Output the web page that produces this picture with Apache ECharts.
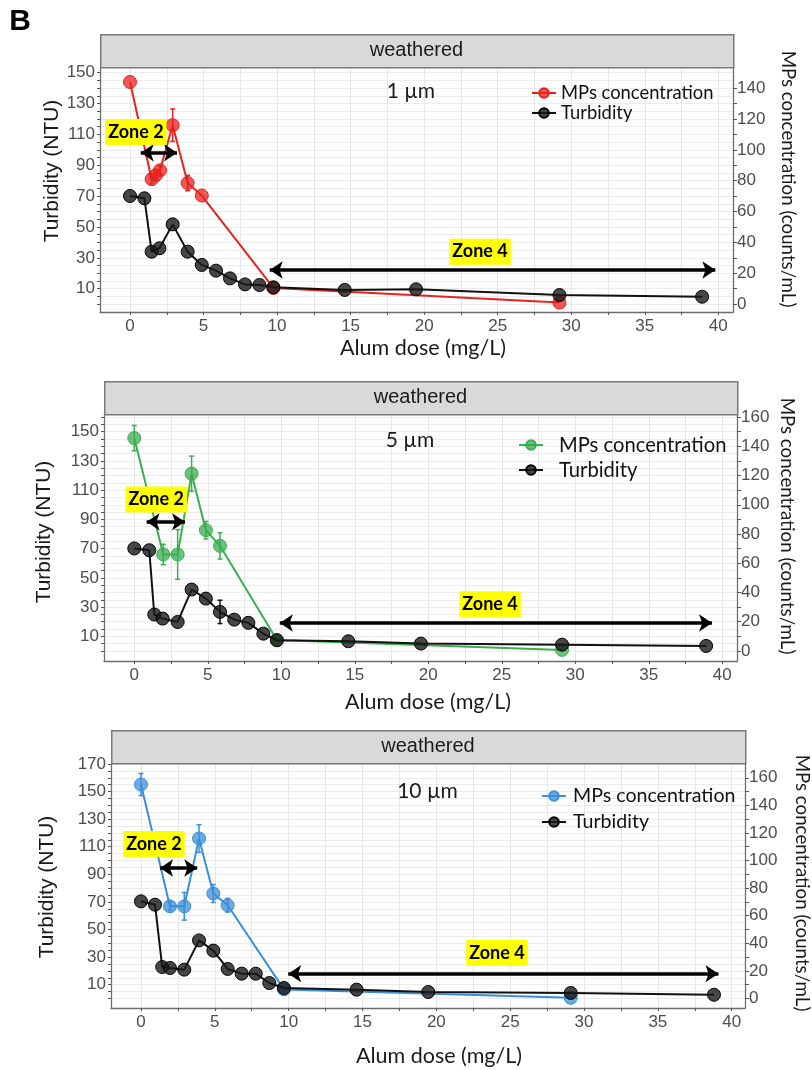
<!DOCTYPE html>
<html>
<head>
<meta charset="utf-8">
<title>Alum dose - turbidity and MPs concentration</title>
<script src="https://cdn.jsdelivr.net/npm/echarts@6.0.0/dist/echarts.min.js"></script>
<style>
html,body{margin:0;padding:0;background:#fff;}
#chart{width:812px;height:1070px;}
</style>
</head>
<body>
<div id="chart"></div>
<script>
// values, dose in mg/L
// 1 um panel
var mpDose1 = [0, 1.47, 1.75, 2.04, 2.9, 3.92, 4.88, 9.75, 29.2];
var mpVal1 = [144, 81, 83.5, 86.7, 116, 78.5, 70.4, 10.5, 1.0];
var mpErr1 = [0, 3, 3, 3, 10.5, 5, 0, 0, 0];
var turbDose1 = [0, 0.98, 1.47, 2.0, 2.9, 3.92, 4.88, 5.85, 6.8, 7.82, 8.8, 9.75, 14.6, 19.45, 29.2, 38.9];
var turbVal1 = [70.1, 68.6, 34.0, 36.2, 51.7, 34, 25.4, 21.7, 16.7, 12.8, 12.4, 10.9, 9.2, 9.6, 5.9, 4.8];
var turbErr1 = [0, 0, 0, 0, 0, 0, 0, 0, 0, 0, 0, 0, 0, 0, 0, 0];
// 5 um panel
var mpDose2 = [0, 1.97, 2.95, 3.9, 4.87, 5.83, 9.7, 29.1];
var mpVal2 = [145.6, 66, 66, 121.3, 82.6, 71.9, 7.5, 0.7];
var mpErr2 = [8.7, 7, 17, 12, 6, 9, 0, 0];
var turbDose2 = [0, 1.02, 1.36, 1.93, 2.95, 3.9, 4.87, 5.83, 6.8, 7.76, 8.78, 9.7, 14.56, 19.5, 29.1, 38.9];
var turbVal2 = [70.1, 68.9, 24.9, 22.1, 19.8, 42, 35.8, 26.7, 21.4, 19.2, 11.8, 7.3, 6.6, 5.0, 4.3, 3.4];
var turbErr2 = [0, 0, 0, 0, 0, 0, 0, 8, 0, 0, 0, 0, 0, 0, 0, 0];
// 10 um panel
var mpDose3 = [0, 1.96, 2.93, 3.93, 4.9, 5.87, 9.68, 29.1];
var mpVal3 = [155.1, 66.8, 66.8, 116, 76.1, 67.6, 6.6, 0.5];
var mpErr3 = [8, 3, 10, 10, 6.5, 5, 0, 0];
var turbDose3 = [0, 0.95, 1.44, 1.96, 2.93, 3.93, 4.9, 5.87, 6.82, 7.77, 8.69, 9.68, 14.6, 19.45, 29.1, 38.8];
var turbVal3 = [70.4, 68, 22.8, 22.1, 20.9, 42.1, 34.7, 21.4, 18, 18, 11.2, 7.6, 6.4, 4.7, 4.0, 2.7];
var turbErr3 = [0, 0, 0, 0, 0, 0, 0, 0, 0, 0, 0, 0, 0, 0, 0, 0];

// tick labels
var xTickLabels = [0, 5, 10, 15, 20, 25, 30, 35, 40];
var xMinorTicks = [0, 2.5, 5, 7.5, 10, 12.5, 15, 17.5, 20, 22.5, 25, 27.5, 30, 32.5, 35, 37.5, 40];
var leftLabels1 = [10, 30, 50, 70, 90, 110, 130, 150];
var leftLabels3 = [10, 30, 50, 70, 90, 110, 130, 150, 170];
var rightLabels1 = [0, 20, 40, 60, 80, 100, 120, 140];
var rightLabels2 = [0, 20, 40, 60, 80, 100, 120, 140, 160];
var sizeLabels = ['1 µm', '5 µm', '10 µm'];

var FONT_AX = '"Liberation Sans", Arial, sans-serif';
var FONT_NOTE = 'Lato, "Open Sans", sans-serif';

// grid / tick positions at a fixed step
function steps(a, b, s) {
    var r = [];
    for (var v = a; v <= b + 1e-9; v += s) r.push(v);
    return r;
}

var panels = [
    {left: 100, right: 79, top: 67, height: 245, xMin: -2.04, xMax: 41, yMin: -5.1, yMax: 153.7,
     color: '#e8221e', fill: 'rgba(232,34,30,0.75)',
     mpDose: mpDose1, mpVal: mpVal1, mpErr: mpErr1, turbDose: turbDose1, turbVal: turbVal1, turbErr: turbErr1,
     leftLabels: leftLabels1, rightLabels: rightLabels1,
     zone2: [0.4, 111.6], zone2Arrow: [0.73, 3.2, 98.1], zone4: [23.8, 34], zone4Arrow: [9.5, 39.8, 22.1],
     size: [19.1, 137.7], legend: {left: 531, top: 84, gap: 2, font: 18.4, pad: 0},
     leftTitle: [52, 171], rightTitle: [788, 179], xTitle: [423, 348]},
    {left: 104, right: 75, top: 414, height: 247, xMin: -2.06, xMax: 41, yMin: -6.9, yMax: 162.1,
     color: '#3bae4f', fill: 'rgba(59,174,79,0.75)',
     mpDose: mpDose2, mpVal: mpVal2, mpErr: mpErr2, turbDose: turbDose2, turbVal: turbVal2, turbErr: turbErr2,
     leftLabels: leftLabels1, rightLabels: rightLabels2,
     zone2: [1.49, 103.6], zone2Arrow: [0.84, 3.45, 88.3], zone4: [24.2, 31.9], zone4Arrow: [9.9, 39.3, 19.1],
     size: [18.75, 144.3], legend: {left: 518, top: 435, gap: 5, font: 20.2, pad: 11},
     leftTitle: [44, 532], rightTitle: [787, 526], xTitle: [428, 702]},
    {left: 111, right: 67, top: 763, height: 245, xMin: -2.03, xMax: 40.9, yMin: -6.9, yMax: 170.7,
     color: '#3b8fd8', fill: 'rgba(59,143,216,0.75)',
     mpDose: mpDose3, mpVal: mpVal3, mpErr: mpErr3, turbDose: turbDose3, turbVal: turbVal3, turbErr: turbErr3,
     leftLabels: leftLabels3, rightLabels: rightLabels2,
     zone2: [0.88, 111.9], zone2Arrow: [1.29, 3.81, 94.6], zone4: [24.1, 33], zone4Arrow: [9.97, 39.1, 18],
     size: [19.4, 150.2], legend: {left: 541, top: 786, gap: 6, font: 19.6, pad: 2},
     leftTitle: [47, 887], rightTitle: [802, 883], xTitle: [439, 1056]}
];

function zip(a, b) {
    return a.map(function (v, i) { return [v, b[i]]; });
}
function errData(d, v, e) {
    var out = [];
    for (var i = 0; i < d.length; i++) {
        if (e[i] > 0) out.push([d[i], v[i] - e[i], v[i] + e[i]]);
    }
    return out;
}
function errRender(params, api) {
    var x = api.value(0);
    var lo = api.coord([x, api.value(1)]);
    var hi = api.coord([x, api.value(2)]);
    var c = api.visual('color');
    var w = 2.5;
    var st = {stroke: c, lineWidth: 1.5};
    return {type: 'group', children: [
        {type: 'line', shape: {x1: lo[0], y1: lo[1], x2: hi[0], y2: hi[1]}, style: st},
        {type: 'line', shape: {x1: lo[0] - w, y1: lo[1], x2: lo[0] + w, y2: lo[1]}, style: st},
        {type: 'line', shape: {x1: hi[0] - w, y1: hi[1], x2: hi[0] + w, y2: hi[1]}, style: st}
    ]};
}
function titleText(txt, pos, font, rot) {
    return {type: 'text', x: pos[0], y: pos[1], rotation: rot || 0,
        style: {text: txt, font: font, fill: '#1a1a1a', align: 'center', verticalAlign: 'middle'}, z: 11};
}

var grids = [], xAxes = [], yAxes = [], series = [], legends = [], graphics = [];

panels.forEach(function (p, i) {
    var mpName = 'MPs concentration#' + i;
    var turbName = 'Turbidity#' + i;
    var w = 812 - p.left - p.right;
    grids.push({left: p.left, right: p.right, top: p.top, height: p.height});

    // facet strip
    graphics.push({type: 'rect', left: p.left, top: p.top - 33,
        shape: {width: w, height: 33},
        style: {fill: '#d9d9d9', stroke: '#7a7a7a', lineWidth: 1.5}, z: 10});
    graphics.push(titleText('weathered', [p.left + w / 2, p.top - 16.5], '20px ' + FONT_AX));
    // axis titles
    graphics.push(titleText('Turbidity (NTU)', p.leftTitle, '21px ' + FONT_AX, Math.PI / 2));
    graphics.push(titleText('MPs concentration (counts/mL)', p.rightTitle, '18.7px ' + FONT_NOTE, -Math.PI / 2));
    graphics.push(titleText('Alum dose (mg/L)', p.xTitle, '21.5px ' + FONT_NOTE));

    xAxes.push({type: 'value', gridIndex: i, min: p.xMin, max: p.xMax,
        axisLine: {show: true, onZero: false, lineStyle: {color: '#6e6e6e', width: 1.3}},
        axisTick: {show: true, length: 3, customValues: xMinorTicks, lineStyle: {color: '#555'}},
        axisLabel: {customValues: xTickLabels, fontFamily: FONT_AX, fontSize: 17, color: '#4d4d4d', margin: 6},
        splitLine: {show: true, lineStyle: {color: '#e6e6e6', width: 1}}
    });
    yAxes.push({type: 'value', gridIndex: i, position: 'left', min: p.yMin, max: p.yMax,
        axisLine: {show: true, onZero: false, lineStyle: {color: '#6e6e6e', width: 1.3}},
        axisTick: {show: true, length: 3, customValues: steps(0, p.yMax, 5), lineStyle: {color: '#555'}},
        axisLabel: {customValues: p.leftLabels, fontFamily: FONT_AX, fontSize: 17, color: '#4d4d4d', margin: 5},
        splitLine: {show: true, lineStyle: {color: '#ececec', width: 1}}
    });
    yAxes.push({type: 'value', gridIndex: i, position: 'right', min: p.yMin, max: p.yMax,
        axisLine: {show: true, onZero: false, lineStyle: {color: '#6e6e6e', width: 1.3}},
        axisTick: {show: true, length: 4, customValues: steps(0, p.rightLabels[p.rightLabels.length - 1], 10), lineStyle: {color: '#555'}},
        axisLabel: {customValues: p.rightLabels, fontFamily: FONT_AX, fontSize: 17, color: '#4d4d4d', margin: 4},
        splitLine: {show: false}
    });

    series.push({name: mpName, type: 'line', xAxisIndex: i, yAxisIndex: 2 * i + 1,
        data: zip(p.mpDose, p.mpVal), symbol: 'circle', symbolSize: 13,
        lineStyle: {color: p.color, width: 2},
        itemStyle: {color: p.fill, borderColor: p.color, borderWidth: 1},
        z: 2});
    series.push({name: 'mpErr' + i, type: 'custom', xAxisIndex: i, yAxisIndex: 2 * i + 1,
        data: errData(p.mpDose, p.mpVal, p.mpErr), renderItem: errRender,
        itemStyle: {color: p.color}, z: 3});
    series.push({name: turbName, type: 'line', xAxisIndex: i, yAxisIndex: 2 * i,
        data: zip(p.turbDose, p.turbVal), symbol: 'circle', symbolSize: 13,
        lineStyle: {color: '#111', width: 2},
        itemStyle: {color: 'rgba(25,25,25,0.8)', borderColor: '#000', borderWidth: 1},
        z: 4,
        markLine: {
            silent: true, animation: false,
            symbol: ['arrow', 'arrow'], symbolSize: [13, 13],
            label: {show: false},
            lineStyle: {color: '#000', width: 3.5, type: 'solid'},
            data: [
                [{coord: [p.zone2Arrow[0], p.zone2Arrow[2]]}, {coord: [p.zone2Arrow[1], p.zone2Arrow[2]]}],
                [{coord: [p.zone4Arrow[0], p.zone4Arrow[2]]}, {coord: [p.zone4Arrow[1], p.zone4Arrow[2]]}]
            ]
        },
        markPoint: {
            silent: true, animation: false,
            symbol: 'rect', symbolSize: 1, itemStyle: {color: 'rgba(0,0,0,0)'},
            label: {show: true, position: 'inside', formatter: function (q) { return q.name; }},
            data: [
                {name: 'Zone 2', coord: p.zone2,
                 label: {backgroundColor: '#ffff00', padding: [5, 3, 3, 3], fontFamily: FONT_NOTE, fontWeight: 'bold', fontSize: 18, color: '#000'}},
                {name: 'Zone 4', coord: p.zone4,
                 label: {backgroundColor: '#ffff00', padding: [5, 3, 3, 3], fontFamily: FONT_NOTE, fontWeight: 'bold', fontSize: 18, color: '#000'}},
                {name: sizeLabels[i], coord: p.size,
                 label: {fontFamily: FONT_NOTE, fontSize: 21, color: '#1a1a1a'}}
            ]
        }
    });
    series.push({name: 'turbErr' + i, type: 'custom', xAxisIndex: i, yAxisIndex: 2 * i,
        data: errData(p.turbDose, p.turbVal, p.turbErr), renderItem: errRender,
        itemStyle: {color: '#111'}, z: 5});

    legends.push({data: [mpName, turbName], orient: 'vertical', left: p.legend.left, top: p.legend.top,
        padding: 0, itemWidth: 24, itemHeight: 12, itemGap: p.legend.gap, selectedMode: false,
        formatter: function (n) { return n.split('#')[0]; },
        textStyle: {fontFamily: FONT_NOTE, fontSize: p.legend.font, lineHeight: 16, color: '#111',
            padding: [0, 0, 0, p.legend.pad]}});
});

graphics.push({type: 'text', x: 20, y: 22,
    style: {text: 'B', font: 'bold 30px ' + FONT_AX, fill: '#000', align: 'center', verticalAlign: 'middle'}});

var myChart = echarts.init(document.getElementById('chart'));
myChart.setOption({
    animation: false,
    backgroundColor: '#fff',
    grid: grids,
    xAxis: xAxes,
    yAxis: yAxes,
    legend: legends,
    graphic: graphics,
    series: series
});
</script>
</body>
</html>
